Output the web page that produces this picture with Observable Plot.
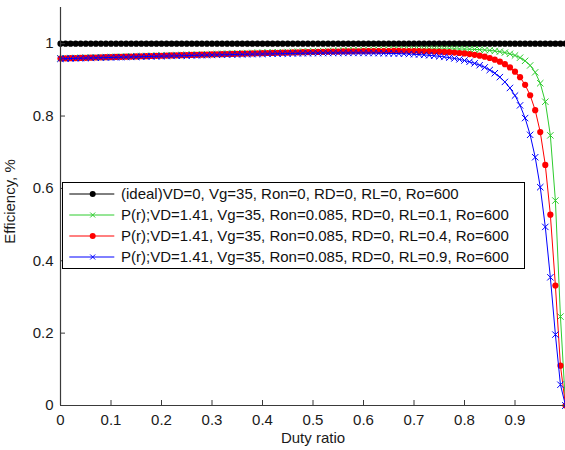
<!DOCTYPE html>
<html><head><meta charset="utf-8">
<script src="https://cdn.jsdelivr.net/npm/d3@7"></script>
<script src="https://cdn.jsdelivr.net/npm/@observablehq/plot@0.6"></script>
<style>
body{margin:0;background:#fff;}
#wrap{position:relative;width:565px;height:450px;overflow:hidden;font-family:"Liberation Sans",Arial,sans-serif;}
#legend{position:absolute;left:62px;top:182px;width:461px;height:85px;border:1px solid #000;background:#fff;}
.lrow{position:absolute;left:0;width:461px;height:20px;}
.lrow svg{position:absolute;left:0;top:0;}
.lrow span{position:absolute;left:58px;top:0;line-height:20px;font-size:15px;color:#111;white-space:nowrap;}
</style>
</head><body>
<div id="wrap"><div id="chart"></div><div id="legend"></div></div>
<script>
const duty = [0,0.01,0.02,0.03,0.04,0.05,0.06,0.07,0.08,0.09,
0.10,0.11,0.12,0.13,0.14,0.15,0.16,0.17,0.18,0.19,
0.20,0.21,0.22,0.23,0.24,0.25,0.26,0.27,0.28,0.29,
0.30,0.31,0.32,0.33,0.34,0.35,0.36,0.37,0.38,0.39,
0.40,0.41,0.42,0.43,0.44,0.45,0.46,0.47,0.48,0.49,
0.50,0.51,0.52,0.53,0.54,0.55,0.56,0.57,0.58,0.59,
0.60,0.61,0.62,0.63,0.64,0.65,0.66,0.67,0.68,0.69,
0.70,0.71,0.72,0.73,0.74,0.75,0.76,0.77,0.78,0.79,
0.80,0.81,0.82,0.83,0.84,0.85,0.86,0.87,0.88,0.89,
0.90,0.91,0.92,0.93,0.94,0.95,0.96,0.97,0.98,0.99,1.00];

const effIdeal = [1,1,1,1,1,1,1,1,1,1,
1,1,1,1,1,1,1,1,1,1,
1,1,1,1,1,1,1,1,1,1,
1,1,1,1,1,1,1,1,1,1,
1,1,1,1,1,1,1,1,1,1,
1,1,1,1,1,1,1,1,1,1,
1,1,1,1,1,1,1,1,1,1,
1,1,1,1,1,1,1,1,1,1,
1,1,1,1,1,1,1,1,1,1,
1,1,1,1,1,1,1,1,1,1,1];

const effRL01 = [0.9596,0.9600,0.9604,0.9608,0.9611,0.9615,0.9619,0.9623,0.9627,0.9631,
0.9635,0.9639,0.9643,0.9647,0.9651,0.9655,0.9659,0.9663,0.9667,0.9671,
0.9675,0.9679,0.9683,0.9687,0.9690,0.9694,0.9698,0.9702,0.9706,0.9710,
0.9714,0.9718,0.9722,0.9725,0.9729,0.9733,0.9737,0.9741,0.9745,0.9748,
0.9752,0.9756,0.9760,0.9764,0.9767,0.9771,0.9775,0.9778,0.9782,0.9786,
0.9789,0.9793,0.9796,0.9800,0.9803,0.9807,0.9810,0.9814,0.9817,0.9820,
0.9823,0.9826,0.9830,0.9833,0.9835,0.9838,0.9841,0.9843,0.9846,0.9848,
0.9850,0.9852,0.9853,0.9855,0.9856,0.9856,0.9856,0.9856,0.9855,0.9853,
0.9850,0.9847,0.9842,0.9835,0.9826,0.9814,0.9799,0.9780,0.9754,0.9720,
0.9675,0.9613,0.9526,0.9399,0.9209,0.8907,0.8396,0.7466,0.5665,0.2457,0];

const effRL04 = [0.9591,0.9595,0.9599,0.9602,0.9606,0.9610,0.9614,0.9618,0.9622,0.9626,
0.9629,0.9633,0.9637,0.9641,0.9645,0.9648,0.9652,0.9656,0.9660,0.9664,
0.9667,0.9671,0.9675,0.9678,0.9682,0.9686,0.9689,0.9693,0.9697,0.9700,
0.9704,0.9708,0.9711,0.9715,0.9718,0.9722,0.9725,0.9729,0.9732,0.9735,
0.9739,0.9742,0.9745,0.9749,0.9752,0.9755,0.9758,0.9761,0.9764,0.9767,
0.9770,0.9772,0.9775,0.9778,0.9780,0.9783,0.9785,0.9787,0.9789,0.9791,
0.9793,0.9794,0.9796,0.9797,0.9798,0.9798,0.9799,0.9799,0.9798,0.9797,
0.9796,0.9794,0.9791,0.9788,0.9784,0.9778,0.9772,0.9764,0.9755,0.9743,
0.9730,0.9713,0.9693,0.9669,0.9640,0.9604,0.9559,0.9503,0.9433,0.9343,
0.9227,0.9073,0.8864,0.8575,0.8162,0.7558,0.6649,0.5275,0.3316,0.1102,0];

const effRL09 = [0.9583,0.9586,0.9590,0.9594,0.9598,0.9601,0.9605,0.9609,0.9612,0.9616,
0.9619,0.9623,0.9627,0.9630,0.9634,0.9637,0.9641,0.9644,0.9648,0.9651,
0.9655,0.9658,0.9661,0.9665,0.9668,0.9671,0.9675,0.9678,0.9681,0.9684,
0.9688,0.9691,0.9694,0.9697,0.9700,0.9703,0.9705,0.9708,0.9711,0.9714,
0.9716,0.9719,0.9721,0.9724,0.9726,0.9728,0.9730,0.9732,0.9734,0.9736,
0.9737,0.9739,0.9740,0.9741,0.9742,0.9743,0.9743,0.9743,0.9743,0.9743,
0.9742,0.9741,0.9740,0.9738,0.9735,0.9732,0.9729,0.9725,0.9720,0.9714,
0.9707,0.9699,0.9689,0.9678,0.9666,0.9651,0.9634,0.9615,0.9592,0.9566,
0.9535,0.9499,0.9456,0.9405,0.9345,0.9272,0.9184,0.9076,0.8943,0.8776,
0.8566,0.8295,0.7944,0.7481,0.6862,0.6034,0.4936,0.3543,0.1960,0.0574,0];

const seriesNames = [
  "(ideal)VD=0, Vg=35, Ron=0, RD=0, RL=0, Ro=600",
  "P(r);VD=1.41, Vg=35, Ron=0.085, RD=0, RL=0.1, Ro=600",
  "P(r);VD=1.41, Vg=35, Ron=0.085, RD=0, RL=0.4, Ro=600",
  "P(r);VD=1.41, Vg=35, Ron=0.085, RD=0, RL=0.9, Ro=600"
];
const seriesValues = [effIdeal, effRL01, effRL04, effRL09];
const seriesColors = ["#000000", "#2ecc2e", "#ff0000", "#0000ff"];
const seriesSymbols = ["circle", "times", "circle", "times"];

const xTicks = [0,0.1,0.2,0.3,0.4,0.5,0.6,0.7,0.8,0.9];
const xTickLabels = ["0","0.1","0.2","0.3","0.4","0.5","0.6","0.7","0.8","0.9"];
const yTicks = [0,0.2,0.4,0.6,0.8,1];
const yTickLabels = ["0","0.2","0.4","0.6","0.8","1"];
const xLabel = "Duty ratio";
const yLabel = "Efficiency, %";

const axisColor = "#3a3a3a";
const seriesMarks = [];
seriesValues.forEach((vals, k) => {
  const rows = duty.map((d, i) => ({d, eff: vals[i]}));
  seriesMarks.push(Plot.line(rows, {x: "d", y: "eff", stroke: seriesColors[k], strokeWidth: 1}));
  if (seriesSymbols[k] === "circle") {
    seriesMarks.push(Plot.dot(rows, {x: "d", y: "eff", r: 3.1, fill: seriesColors[k], stroke: "none"}));
  } else {
    seriesMarks.push(Plot.dot(rows, {x: "d", y: "eff", r: 3, symbol: "times", stroke: seriesColors[k], strokeWidth: 1}));
  }
});

const chart = Plot.plot({
  width: 565, height: 450,
  marginLeft: 60, marginRight: 0, marginTop: 7, marginBottom: 45,
  x: {domain: [0, 1]},
  y: {domain: [0, 1.1]},
  style: {fontFamily: '"Liberation Sans", Arial, sans-serif', fontSize: "15px", color: "#1a1a1a", background: "#fff"},
  marks: [
    Plot.axisX({ticks: xTicks, tickSize: 0, tickPadding: 9, tickFormat: d => xTickLabels[xTicks.indexOf(d)], label: null}),
    Plot.axisY({ticks: yTicks, tickSize: 0, tickPadding: 7, tickFormat: d => yTickLabels[yTicks.indexOf(d)], label: null}),
    ...seriesMarks,
    Plot.axisX({ticks: xTicks, tickSize: 5, dy: -5, fill: "none", stroke: axisColor, label: null}),
    Plot.axisY({ticks: yTicks, tickSize: 5, dx: 5, fill: "none", stroke: axisColor, label: null}),
    Plot.ruleX([0], {stroke: axisColor, strokeWidth: 1.2}),
    Plot.ruleY([0], {stroke: axisColor, strokeWidth: 1.2}),
    Plot.text([xLabel], {frameAnchor: "bottom", dy: 37, fontSize: 15, fill: "#1a1a1a"}),
    Plot.text([yLabel], {frameAnchor: "left", textAnchor: "middle", rotate: -90, dx: -50, dy: -5, fontSize: 15, fill: "#1a1a1a"})
  ]
});
document.getElementById("chart").appendChild(chart);

// legend
const legend = document.getElementById("legend");
seriesNames.forEach((name, k) => {
  const row = document.createElement("div");
  row.className = "lrow";
  row.style.top = (1 + k * 21.1) + "px";
  const svg = d3.create("svg").attr("width", 58).attr("height", 20);
  svg.append("line").attr("x1", 6.3).attr("x2", 51.3).attr("y1", 10).attr("y2", 10)
    .attr("stroke", seriesColors[k]).attr("stroke-width", 1);
  if (seriesSymbols[k] === "circle") {
    svg.append("circle").attr("cx", 29.7).attr("cy", 10).attr("r", 3).attr("fill", seriesColors[k]);
  } else {
    svg.append("path").attr("d", "M27.2,7.5L32.2,12.5M27.2,12.5L32.2,7.5").attr("stroke", seriesColors[k]).attr("stroke-width", 1);
  }
  row.appendChild(svg.node());
  const span = document.createElement("span");
  span.textContent = name;
  row.appendChild(span);
  legend.appendChild(row);
});
</script>
</body></html>
